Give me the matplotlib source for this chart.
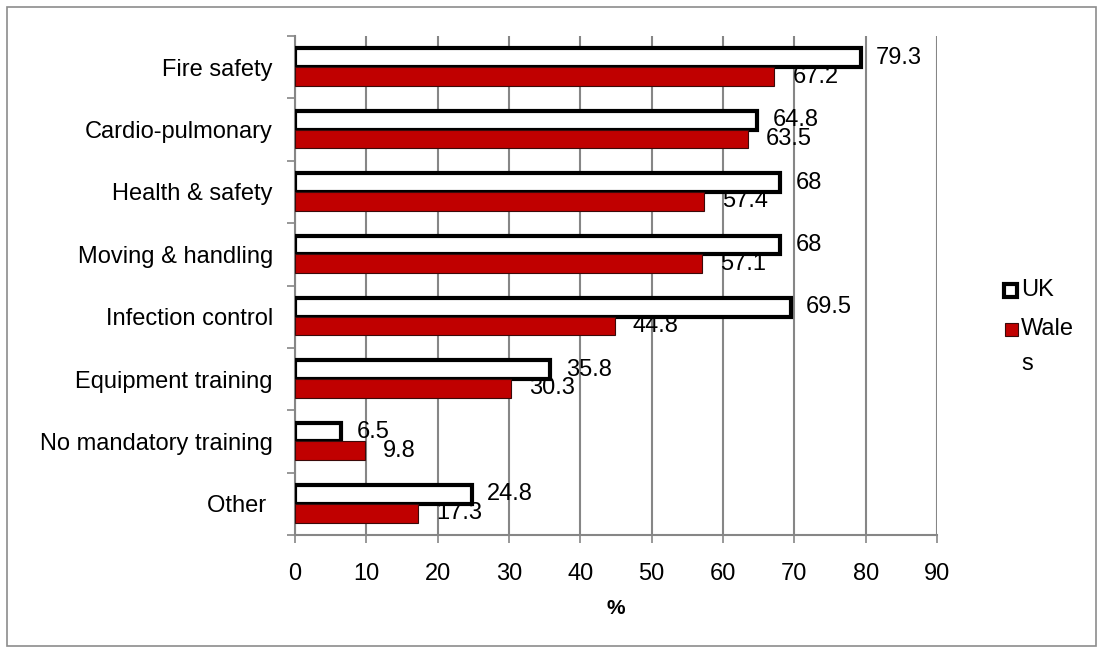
import numpy as np
import matplotlib.pyplot as plt
from matplotlib.patches import Rectangle

categories = ['Fire safety', 'Cardio-pulmonary', 'Health & safety', 'Moving & handling',
              'Infection control', 'Equipment training', 'No mandatory training', 'Other ']
uk = [79.3, 64.8, 68, 68, 69.5, 35.8, 6.5, 24.8]
wales = [67.2, 63.5, 57.4, 57.1, 44.8, 30.3, 9.8, 17.3]
uk_labels = ['79.3', '64.8', '68', '68', '69.5', '35.8', '6.5', '24.8']
wales_labels = ['67.2', '63.5', '57.4', '57.1', '44.8', '30.3', '9.8', '17.3']
series = ['UK', 'Wale\ns']

plt.rcParams['font.family'] = ['Liberation Sans', 'DejaVu Sans']
FS = 17
GRID = '#868686'
RED = '#C00000'
W, H = 1103, 652

fig = plt.figure(figsize=(W / 100, H / 100), dpi=100)
ax = fig.add_axes([0.2675, 0.1794, 0.582, 0.7654])

n = len(categories)
pos = np.arange(n)[::-1]  # first category on top
h = 0.3

ax.barh(pos + h / 2, uk, height=h, color='white', edgecolor='black', linewidth=3, zorder=3)
ax.barh(pos - h / 2, wales, height=h, color=RED, edgecolor='#3a0a0a', linewidth=0.8, zorder=3)

for p, v, t in zip(pos, uk, uk_labels):
    ax.annotate(t, (v, p + h / 2), xytext=(11, 0), textcoords='offset points',
                va='center', ha='left', fontsize=FS)
for p, v, t in zip(pos, wales, wales_labels):
    ax.annotate(t, (v, p - h / 2), xytext=(13, 0), textcoords='offset points',
                va='center', ha='left', fontsize=FS)

ax.set_xlim(0, 90)
ax.set_ylim(-0.5, n - 0.5)
ax.set_xticks(range(0, 91, 10))
ax.tick_params(axis='x', labelsize=FS, length=6, width=1.2, color=GRID, pad=14)
ax.set_yticks(pos)
ax.set_yticklabels(categories, fontsize=FS)
ax.tick_params(axis='y', length=0, pad=16)
# category separator ticks
ax.set_yticks(np.arange(-0.5, n, 1), minor=True)
ax.tick_params(axis='y', which='minor', length=6, width=1.2, color=GRID)
ax.grid(axis='x', color=GRID, linewidth=1.5, zorder=0)
ax.set_axisbelow(True)
for s in ['top', 'right']:
    ax.spines[s].set_visible(False)
for s in ['left', 'bottom']:
    ax.spines[s].set_color(GRID)
    ax.spines[s].set_linewidth(1.5)
ax.set_xlabel('%', fontsize=FS - 2, fontweight='bold', labelpad=10)

# legend drawn by hand so the handle sits on the first line of the wrapped label
def px(x, y):
    return x / W, 1 - y / H

x0, y0 = px(1004, 297)
fig.patches.append(Rectangle((x0, y0), 13 / W, 13 / H, transform=fig.transFigure,
                             facecolor='white', edgecolor='black', linewidth=3))
x0, y0 = px(1005, 336)
fig.patches.append(Rectangle((x0, y0), 13 / W, 13 / H, transform=fig.transFigure,
                             facecolor=RED, edgecolor='#3a0a0a', linewidth=0.8))
fig.text(*px(1021, 290), series[0], fontsize=FS, va='center', ha='left')
fig.text(*px(1021, 318), series[1], fontsize=FS, va='top', ha='left', linespacing=1.75)

fig.patches.append(Rectangle((0.006, 0.009), 0.988, 0.981, transform=fig.transFigure,
                             fill=False, edgecolor='#8c8c8c', linewidth=1.2))

fig.savefig('out.png', dpi=100)
